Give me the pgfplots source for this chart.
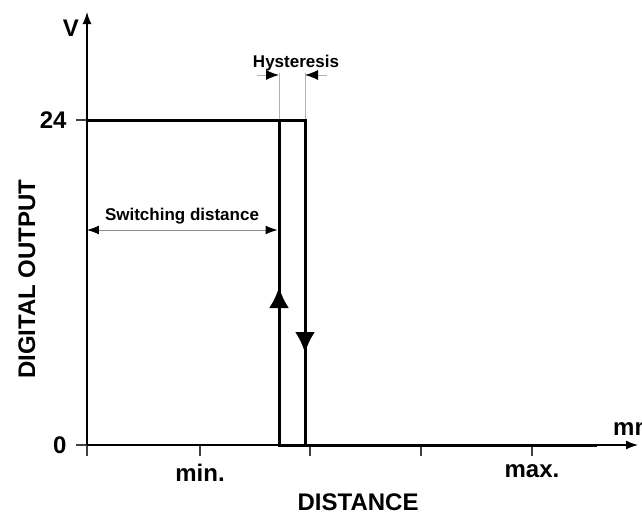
\documentclass[border=0pt]{standalone}
\usepackage{pgfplots}
\pgfplotsset{compat=1.18}
\usepackage{fontspec}
\setmainfont{Liberation Sans}
\usetikzlibrary{arrows.meta}
\begin{document}
\begin{tikzpicture}
\begin{axis}[
 scale only axis, width=551pt, height=433pt,
 xmin=0,xmax=551,ymin=0,ymax=433,
 axis lines=left,
 axis line style={line width=1.3pt, -{Latex[length=12pt,width=9pt]}},
 clip=false,
 xtick={0,113,223,334,445}, xticklabels={,min.,,,max.},
 ytick={0,325}, yticklabels={0,24},
 tick align=outside, major tick length=11pt,
 tick style={line width=1.2pt, black!75},
 ticklabel style={font=\fontsize{24}{28}\selectfont\bfseries},
 xticklabel style={yshift=-5pt},
 yticklabel style={xshift=-6pt},
 xlabel={DISTANCE}, ylabel={DIGITAL OUTPUT},
 label style={font=\fontsize{24}{28}\selectfont\bfseries},
 xlabel style={at={(axis description cs:0.492,-0.1316)},anchor=center},
 ylabel style={at={(axis description cs:-0.109,0.383)},anchor=center},
]
\addplot[line width=3pt, black] coordinates {(0,325) (218,325) (218,0) (510,0)};
\addplot[line width=3pt, black] coordinates {(192,325) (192,0) (218,0)};
\addplot[line width=3pt, black, -{Latex[length=21pt,width=20pt]}] coordinates {(192,100) (192,158)};
\addplot[line width=3pt, black, -{Latex[length=21pt,width=20pt]}] coordinates {(218,150) (218,92)};
\addplot[black!30, line width=1pt] coordinates {(192,326) (192,372)};
\addplot[black!30, line width=1pt] coordinates {(218,326) (218,372)};
\addplot[black!30, line width=1pt, -{Latex[length=13pt,width=10pt,color=black]}] coordinates {(170,370) (192,370)};
\addplot[black!30, line width=1pt, -{Latex[length=13pt,width=10pt,color=black]}] coordinates {(240,370) (218,370)};
\addplot[black!45, line width=1pt, {Latex[length=12pt,width=9pt,color=black]}-{Latex[length=12pt,width=9pt,color=black]}] coordinates {(0,215) (190.5,215)};
\node[font=\fontsize{17}{20}\selectfont\bfseries, anchor=base] at (axis cs:209,378) {Hysteresis};
\node[font=\fontsize{17}{20}\selectfont\bfseries, anchor=base] at (axis cs:95,225) {Switching distance};
\node[font=\fontsize{24}{28}\selectfont\bfseries, anchor=center] at (axis cs:-16,417) {V};
\node[font=\fontsize{24}{28}\selectfont\bfseries, anchor=base west, inner sep=0pt] at (axis cs:526,10) {mm};
\end{axis}
\pgfresetboundingbox
\path[use as bounding box] (-87pt,-70pt) rectangle (555pt,445pt);
\end{tikzpicture}
\end{document}
